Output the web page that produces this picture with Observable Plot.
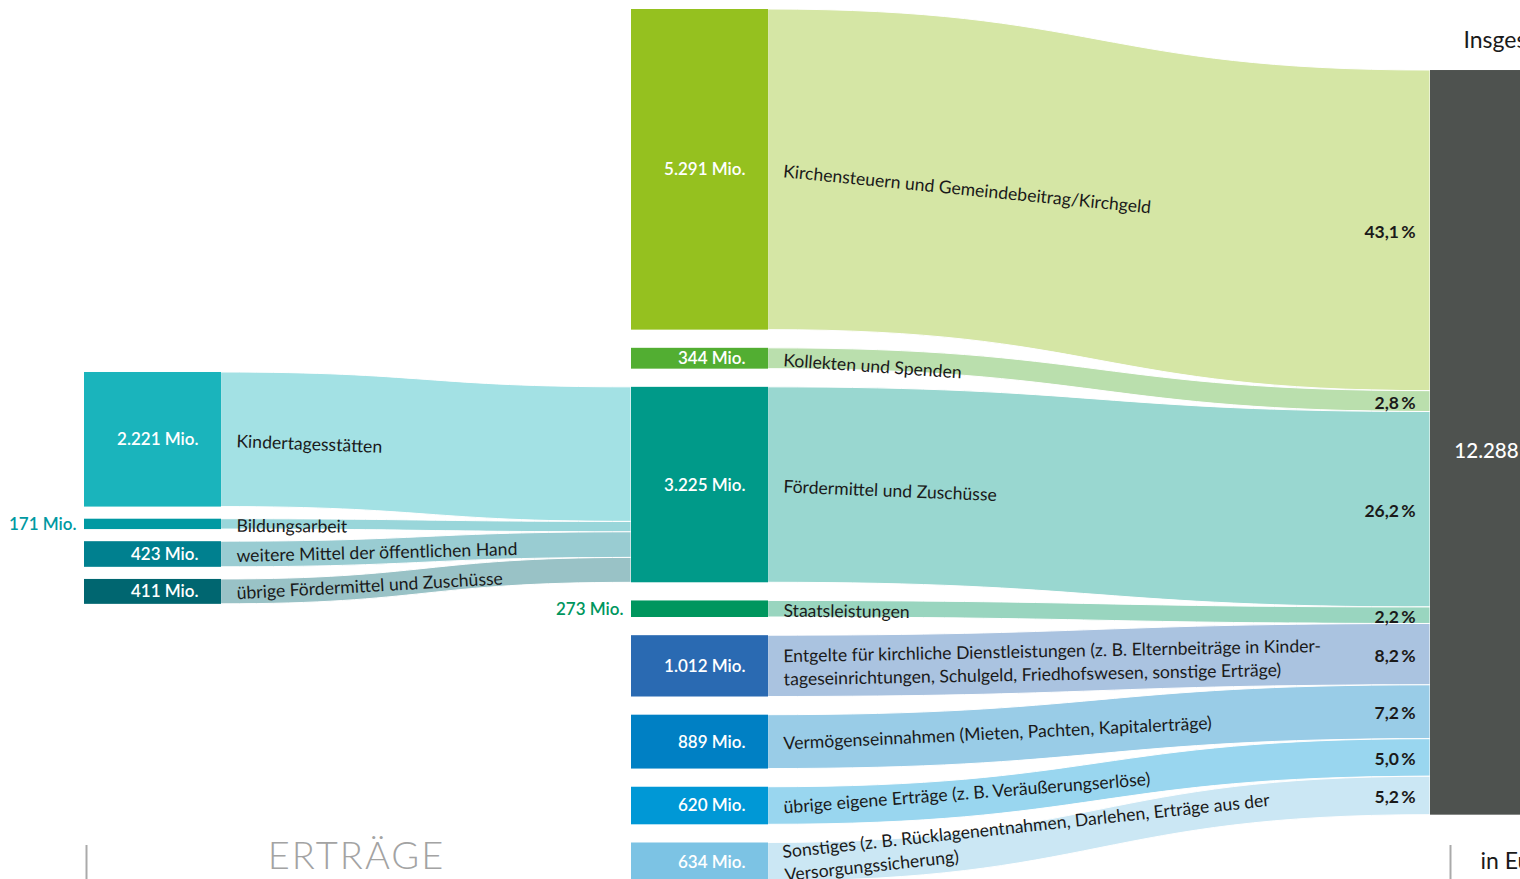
<!DOCTYPE html>
<html><head><meta charset="utf-8">
<script src="https://cdn.jsdelivr.net/npm/d3@7"></script>
<script src="https://cdn.jsdelivr.net/npm/@observablehq/plot@0.6"></script>
<style>
html,body{margin:0;padding:0;background:#fff;overflow:hidden;}
#chart{width:1520px;height:879px;overflow:hidden;}
</style></head><body><div id="chart"></div>
<script>
// ---------- data ----------
const incomeLabels = [
  "Kirchensteuern und Gemeindebeitrag/Kirchgeld",
  "Kollekten und Spenden",
  "Fördermittel und Zuschüsse",
  "Staatsleistungen",
  "Entgelte für kirchliche Dienstleistungen (z. B. Elternbeiträge in Kinder-\ntageseinrichtungen, Schulgeld, Friedhofswesen, sonstige Erträge)",
  "Vermögenseinnahmen (Mieten, Pachten, Kapitalerträge)",
  "übrige eigene Erträge (z. B. Veräußerungserlöse)",
  "Sonstiges (z. B. Rücklagenentnahmen, Darlehen, Erträge aus der\nVersorgungssicherung)"
];
const incomeValues = [5291, 344, 3225, 273, 1012, 889, 620, 634];
const subLabels = [
  "Kindertagesstätten",
  "Bildungsarbeit",
  "weitere Mittel der öffentlichen Hand",
  "übrige Fördermittel und Zuschüsse"
];
const subValues = [2221, 171, 423, 411];
const subTargetIndex = 2;            // flows into "Fördermittel und Zuschüsse"
const totalValue = 12288;
const totalTitle = "Insgesamt";
const unitLabel = "in Euro";
const sectionLabel = "ERTRÄGE";

// ---------- styles ----------
const incomeColors = ["#95c11f","#52ae32","#009a89","#00965e","#2a6ab2","#0080c4","#0098d6","#7cc3e4"];
const subColors = ["#1ab4bc","#0099a2","#00808f","#006670"];
const totalColor = "#4e524f";
const FONT = "Lato, 'Source Sans Pro', 'Noto Sans', sans-serif";

// ---------- layout ----------
const K = 0.0606;            // px per Mio.
const TOP = 9;
const MID_GAP = 300, LEFT_GAP = 200;
const LEFT_START = 5990, RIGHT_START = 1007;
const LEFT_X = [84, 221], MID_X = [631, 768], RIGHT_X = [1430, 1542];
const PAD = 15;

let cum = 0;
const mid = incomeValues.map((v, i) => {
  const n = {label: incomeLabels[i], value: v, color: incomeColors[i], x1: MID_X[0], x2: MID_X[1], y1: cum, y2: cum + v};
  cum += v + MID_GAP; return n;
});
const yMax = cum - MID_GAP;
let rc = RIGHT_START;
mid.forEach(n => { n.t1 = rc; n.t2 = rc + n.value; rc = n.t2; });
let lc = LEFT_START, fc = mid[subTargetIndex].y1;
const left = subValues.map((v, i) => {
  const n = {label: subLabels[i], value: v, color: subColors[i], x1: LEFT_X[0], x2: LEFT_X[1], y1: lc, y2: lc + v, t1: fc, t2: fc + v};
  lc += v + LEFT_GAP; fc += v; return n;
});
const nodes = [...left, ...mid];

const flowRows = [];
left.forEach((n, i) => {
  flowRows.push({id: "l" + i, x: LEFT_X[1], y1: n.y1, y2: n.y2, fill: n.color});
  flowRows.push({id: "l" + i, x: MID_X[0], y1: n.t1, y2: n.t2, fill: n.color});
});
mid.forEach((n, i) => {
  flowRows.push({id: "m" + i, x: MID_X[1], y1: n.y1, y2: n.y2, fill: n.color});
  flowRows.push({id: "m" + i, x: RIGHT_X[0], y1: n.t1, y2: n.t2, fill: n.color});
});

const angle = (n, x0, x1) => Math.atan2(((n.t1 + n.t2) / 2 - (n.y1 + n.y2) / 2) * K * 1.07, x1 - x0) * 180 / Math.PI;
const flowLabels = [
  ...left.map(n => ({label: n.label, x: LEFT_X[1] + PAD, y: (n.y1 + n.y2) / 2, r: angle(n, LEFT_X[1], MID_X[0])})),
  ...mid.map(n => ({label: n.label, x: MID_X[1] + PAD, y: (n.y1 + n.y2) / 2, r: angle(n, MID_X[1], RIGHT_X[0])}))
];

const de = d3.formatLocale({decimal: ",", thousands: ".", grouping: [3], currency: ["", "€"]});
const fmt = de.format(",");
const mio = v => fmt(v) + " Mio.";
const pct = v => (v / totalValue * 100).toFixed(1).replace(".", ",") + "\u2009%";
const inside = nodes.filter(n => n.value >= 300);
const outside = nodes.filter(n => n.value < 300);
const py = px => (px - TOP) / K;   // helper for fixed annotations

const chart = Plot.plot({
  width: 1520, height: 879, margin: 0,
  x: {domain: [0, 1520], range: [0, 1520], axis: null},
  y: {domain: [0, yMax], range: [TOP, TOP + yMax * K], axis: null},
  color: {type: "identity"},
  style: {fontFamily: FONT, background: "white", overflow: "hidden"},
  marks: [
    Plot.area(flowRows, {x1: "x", y1: "y1", y2: "y2", z: "id", fill: "fill", fillOpacity: 0.4, stroke: "white", strokeWidth: 1, curve: "bump-x"}),
    Plot.rect(nodes, {x1: "x1", x2: "x2", y1: "y1", y2: "y2", fill: "color"}),
    Plot.rect([totalValue], {x1: RIGHT_X[0], x2: RIGHT_X[1], y1: RIGHT_START, y2: d => RIGHT_START + d, fill: totalColor}),
    Plot.text(inside, {x: d => d.x2 - 23, y: d => (d.y1 + d.y2) / 2, text: d => mio(d.value), fill: "white", textAnchor: "end", fontSize: 17, fontWeight: 600}),
    Plot.text(outside, {x: d => d.x1 - 8, y: d => (d.y1 + d.y2) / 2, text: d => mio(d.value), fill: "color", textAnchor: "end", fontSize: 17, fontWeight: 600}),
    Plot.text(flowLabels, {x: "x", y: "y", text: "label", rotate: "r", textAnchor: "start", fontSize: 17.6, fill: "#1a1a1a", lineHeight: 1.32}),
    Plot.text(mid, {x: RIGHT_X[0] - 15, y: d => (d.t1 + d.t2) / 2, dy: 1.5, text: d => pct(d.value), textAnchor: "end", fontSize: 17.5, fontWeight: 700, fill: "#1a1a1a"}),
    Plot.text([totalValue], {x: (RIGHT_X[0] + RIGHT_X[1]) / 2, y: RIGHT_START + totalValue / 2, dy: 9, text: d => fmt(d), fill: "white", fontSize: 20.5, fontWeight: 500}),
    Plot.text([totalTitle], {x: 1463, y: py(40), text: d => d, textAnchor: "start", fontSize: 23, fill: "#1a1a1a"}),
    Plot.text([unitLabel], {x: 1480, y: py(861), text: d => d, textAnchor: "start", fontSize: 23, fill: "#1a1a1a"}),
    Plot.text([sectionLabel], {x: 356, y: py(856), text: d => d, textAnchor: "middle", fontSize: 38, fontWeight: 300, fill: "#a3a3a3"}),
    Plot.ruleX([86, 1450], {y1: py(845), y2: py(879), stroke: "#aaaaaa", strokeWidth: 2})
  ]
});
d3.select(chart).selectAll("text").filter(function() { return this.textContent === sectionLabel; }).style("letter-spacing", "2px");
document.getElementById("chart").appendChild(chart);
</script></body></html>
